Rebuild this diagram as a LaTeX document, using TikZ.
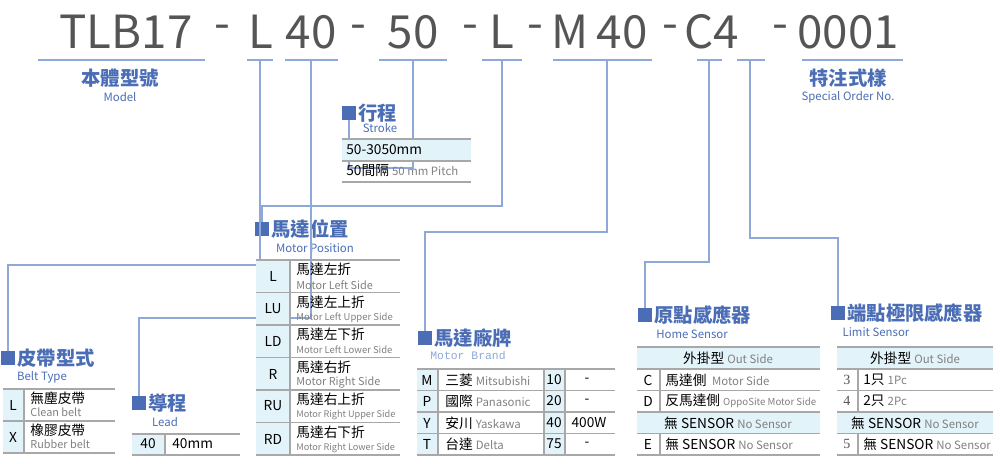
\documentclass[tikz,border=0pt]{standalone}
\usepackage{fontspec}
\setmainfont{Noto Sans CJK TC}
\newfontfamily\numfont{Liberation Serif}
\newfontfamily\brandfont{Liberation Mono}
\usetikzlibrary{positioning}
\definecolor{hblue}{HTML}{4A6DB5}
\definecolor{lblue}{HTML}{8FA8DA}
\definecolor{cfill}{HTML}{E2F3FA}
\definecolor{rgray}{HTML}{A8A8A8}
\definecolor{tgray}{HTML}{555555}
\begin{document}
\begin{tikzpicture}[x=0.02cm,y=-0.02cm,
code/.style={font=\fontsize{26}{30}\selectfont, text=tgray, inner sep=0},
ul/.style={draw=lblue, line width=0.8pt},
conn/.style={draw=lblue, line width=0.8pt},
sqmark/.style={rectangle, fill=hblue, minimum size=0.28cm, inner sep=0},
head/.style={font=\bfseries\fontsize{11}{12}\selectfont, text=hblue, anchor=west, inner sep=0},
sub/.style={font=\fontsize{6.5}{8}\selectfont, text=hblue, inner sep=0},
cell/.style={font=\fontsize{7.8}{9}\selectfont, text=black, inner sep=0},
eng/.style={font=\fontsize{6.2}{8}\selectfont, text=gray, inner sep=0},
rule/.style={draw=rgray, line width=0.6pt}]
\useasboundingbox (0,0) rectangle (1000,463);

% model code
\draw (126,32) node[code] (cTLB) {TLB17};
\draw (222,32) node[code] {-};
\draw (261,32) node[code] (cL) {L};
\draw (311,32) node[code] (c40) {40};
\draw (358,32) node[code] {-};
\draw (413,32) node[code] (c50) {50};
\draw (470,32) node[code] {-};
\draw (502,32) node[code] (cL2) {L};
\draw (535,32) node[code] {-};
\draw (570,32) node[code] (cM) {M};
\draw (622,32) node[code] (c40b) {40};
\draw (670,32) node[code] {-};
\draw (712,32) node[code] (cC4) {C4};
\draw (780,32) node[code] {-};
\draw (848,32) node[code] (c0001) {0001};

% underlines
\draw[ul] (38,60) -- (205,60);
\draw[ul] (247,60) -- (273,60);
\draw[ul] (285,60) -- (338,60);
\draw[ul] (379,60) -- (447,60);
\draw[ul] (482,60) -- (522,60);
\draw[ul] (553,60) -- (652,60);
\draw[ul] (697,60) -- (722,60);
\draw[ul] (737,60) -- (765,60);
\draw[ul] (802,60) -- (903,60);
\coordinate (uL) at (260,60);
\coordinate (u40) at (311,60);
\coordinate (u50) at (413,60);
\coordinate (uL2) at (502,60);
\coordinate (uM) at (607,60);
\coordinate (uC) at (709,60);
\coordinate (u4) at (750,60);

\draw (120,78) node[head,anchor=center] (tModel) {本體型號};
\draw (120,97) node[sub] (sModel) {Model};
\draw (848,78) node[head,anchor=center] (tSpec) {特注式樣};
\draw (848,97) node[sub] (sSpec) {Special Order No.};

% headings
\draw (8,358) node[sqmark] (mBelt) {};
\draw (17,358) node[head] (tBelt) {皮帶型式};
\draw (42,377) node[sub] (sBelt) {Belt Type};
\draw (139,403) node[sqmark] (mLead) {};
\draw (148,403) node[head] (tLead) {導程};
\draw (165,422) node[sub] (sLead) {Lead};
\draw (349,113) node[sqmark] (mStroke) {};
\draw (358,113) node[head] (tStroke) {行程};
\draw (380,128) node[sub] (sStroke) {Stroke};
\draw (262,229) node[sqmark] (mPos) {};
\draw (271,229) node[head] (tPos) {馬達位置};
\draw (315,248) node[sub] (sPos) {Motor Position};
\draw (425,338) node[sqmark] (mBrand) {};
\draw (434,338) node[head] (tBrand) {馬達廠牌};
\draw (468,355) node[sub,font=\brandfont\fontsize{6.5}{8}\selectfont,text=lblue] (sBrand) {Motor Brand};
\draw (645,315) node[sqmark] (mHome) {};
\draw (654,315) node[head] (tHome) {原點感應器};
\draw (692,334) node[sub] (sHome) {Home Sensor};
\draw (838,313) node[sqmark] (mLim) {};
\draw (847,313) node[head] (tLim) {端點極限感應器};
\draw (876,332) node[sub] (sLim) {Limit Sensor};

% connectors
\coordinate (kBelt) at (8,265);
\coordinate (kLead) at (139,318);
\coordinate (kStroke) at (349,168);
\coordinate (kPos) at (262,206);
\coordinate (kBrand) at (425,232);
\coordinate (kHome) at (645,262);
\coordinate (kLim) at (838,238);
\draw[conn] (uL) |- (kBelt) -- (mBelt);
\draw[conn] (u40) |- (kLead) -- (mLead);
\draw[conn] (u50) |- (kStroke) -- (mStroke);
\draw[conn] (uL2) |- (kPos) -- (mPos);
\draw[conn] (uM) |- (kBrand) -- (mBrand);
\draw[conn] (uC) |- (kHome) -- (mHome);
\draw[conn] (u4) |- (kLim) -- (mLim);

% belt type table
\fill[cfill] (3,389) rectangle (24,453);
\draw[rule] (3,389) -- (115,389) (3,421) -- (115,421) (3,453) -- (115,453) (24,389) -- (24,453);
\draw (13,405) node[cell] (bL) {L};
\draw (13,437) node[cell] (bX) {X};
\draw (30,398) node[cell,anchor=west] (bL1) {無塵皮帶};
\draw (30,412) node[eng,anchor=west] (bL2) {Clean belt};
\draw (30,430) node[cell,anchor=west] (bX1) {橡膠皮帶};
\draw (30,444) node[eng,anchor=west] (bX2) {Rubber belt};

% lead table
\fill[cfill] (132,434) rectangle (165,455);
\draw[rule] (132,434) -- (240,434) (132,455) -- (240,455) (165,434) -- (165,455);
\draw (148,444) node[cell] (l40) {40};
\draw (172,444) node[cell,anchor=west] (l40b) {40mm};

% stroke table
\fill[cfill] (342,139) rectangle (471,161);
\draw[rule] (342,139) -- (471,139) (342,161) -- (471,161) (342,182) -- (471,182);
\draw (346,150) node[cell,anchor=west] (s1) {50-3050mm};
\draw (346,171) node[cell,anchor=west] (s2) {50間隔 \textcolor{gray}{\fontsize{6.5}{8}\selectfont 50 mm Pitch}};

% motor position table
\fill[cfill] (256,260) rectangle (290,455);
\draw[rule] (290,260) -- (290,455);
\foreach \y in {260,292.5,325,357.5,390,422.5,455}
  \draw[rule] (256,\y) -- (400,\y);
\draw (273,276) node[cell] (pL) {L};
\draw (273,309) node[cell] (pLU) {LU};
\draw (273,341) node[cell] (pLD) {LD};
\draw (273,374) node[cell] (pR) {R};
\draw (273,406) node[cell] (pRU) {RU};
\draw (273,439) node[cell] (pRD) {RD};
\draw (296,269) node[cell,anchor=west] (pL1) {馬達左折};
\draw (296,285) node[eng,anchor=west] (pL2) {Motor Left Side};
\draw (296,302) node[cell,anchor=west] (pLU1) {馬達左上折};
\draw (296,318) node[eng,anchor=west,font=\fontsize{5.4}{7}\selectfont] (pLU2) {Motor Left Upper Side};
\draw (296,334) node[cell,anchor=west] (pLD1) {馬達左下折};
\draw (296,350) node[eng,anchor=west,font=\fontsize{5.4}{7}\selectfont] (pLD2) {Motor Left Lower Side};
\draw (296,367) node[cell,anchor=west] (pR1) {馬達右折};
\draw (296,383) node[eng,anchor=west] (pR2) {Motor Right Side};
\draw (296,399) node[cell,anchor=west] (pRU1) {馬達右上折};
\draw (296,415) node[eng,anchor=west,font=\fontsize{5.2}{7}\selectfont] (pRU2) {Motor Right Upper Side};
\draw (296,432) node[cell,anchor=west] (pRD1) {馬達右下折};
\draw (296,448) node[eng,anchor=west,font=\fontsize{5.2}{7}\selectfont] (pRD2) {Motor Right Lower Side};

% motor brand table
\fill[cfill] (417,369) rectangle (438,455) (544,369) rectangle (565,455);
\draw[rule] (438,369) -- (438,455) (544,369) -- (544,455) (565,369) -- (565,455);
\foreach \y in {369,390.5,412,433.5,455}
  \draw[rule] (417,\y) -- (615,\y);
\draw (427,380) node[cell] (bM) {M};
\draw (427,401) node[cell] (bP) {P};
\draw (427,423) node[cell] (bY) {Y};
\draw (427,444) node[cell] (bT) {T};
\draw (445,380) node[cell,anchor=west] (bM1) {三菱 \textcolor{gray}{\fontsize{6.5}{8}\selectfont Mitsubishi}};
\draw (445,401) node[cell,anchor=west] (bP1) {國際 \textcolor{gray}{\fontsize{6.5}{8}\selectfont Panasonic}};
\draw (445,423) node[cell,anchor=west] (bY1) {安川 \textcolor{gray}{\fontsize{6.5}{8}\selectfont Yaskawa}};
\draw (445,444) node[cell,anchor=west] (bT1) {台達 \textcolor{gray}{\fontsize{6.5}{8}\selectfont Delta}};
\draw (554,380) node[cell] (b10) {10};
\draw (554,401) node[cell] (b20) {20};
\draw (554,423) node[cell] (b40) {40};
\draw (554,444) node[cell] (b75) {75};
\draw (587,380) node[cell] (w10) {-};
\draw (587,401) node[cell] (w20) {-};
\draw (589,423) node[cell] (w40) {400W};
\draw (587,444) node[cell] (w75) {-};

% home sensor table
\fill[cfill] (637,347) rectangle (820,369) (637,412) rectangle (820,433.5);
\draw[rule] (660,369) -- (660,412) (660,433.5) -- (660,455);
\foreach \y in {347,369,390.5,412,433.5,455}
  \draw[rule] (637,\y) -- (820,\y);
\draw (728,358) node[cell] (hOut) {外掛型 \textcolor{gray}{\fontsize{6.5}{8}\selectfont Out Side}};
\draw (648,380) node[cell] (hC) {C};
\draw (648,401) node[cell] (hD) {D};
\draw (648,444) node[cell] (hE) {E};
\draw (665,380) node[cell,anchor=west] (hC1) {馬達側 \textcolor{gray}{\fontsize{6.5}{8}\selectfont\ Motor Side}};
\draw (665,401) node[cell,anchor=west] (hD1) {反馬達側 \textcolor{gray}{\fontsize{5.5}{7}\selectfont OppoSite Motor Side}};
\draw (728,423) node[cell] (hNo) {無 SENSOR \textcolor{gray}{\fontsize{6.5}{8}\selectfont No Sensor}};
\draw (665,444) node[cell,anchor=west] (hE1) {無 SENSOR \textcolor{gray}{\fontsize{6.5}{8}\selectfont No Sensor}};

% limit sensor table
\fill[cfill] (837,347) rectangle (993,369) (837,412) rectangle (993,433.5);
\draw[rule] (858,369) -- (858,412) (858,433.5) -- (858,455);
\foreach \y in {347,369,390.5,412,433.5,455}
  \draw[rule] (837,\y) -- (993,\y);
\draw (915,358) node[cell] (mOut) {外掛型 \textcolor{gray}{\fontsize{6.5}{8}\selectfont Out Side}};
\draw (847,380) node[cell,font=\numfont\fontsize{8}{9}\selectfont,text=tgray] (m3) {3};
\draw (847,401) node[cell,font=\numfont\fontsize{8}{9}\selectfont,text=tgray] (m4) {4};
\draw (847,444) node[cell,font=\numfont\fontsize{8}{9}\selectfont,text=tgray] (m5) {5};
\draw (863,380) node[cell,anchor=west] (m31) {1只 \textcolor{gray}{\fontsize{6.5}{8}\selectfont 1Pc}};
\draw (863,401) node[cell,anchor=west] (m41) {2只 \textcolor{gray}{\fontsize{6.5}{8}\selectfont 2Pc}};
\draw (915,423) node[cell] (mNo) {無 SENSOR \textcolor{gray}{\fontsize{6.5}{8}\selectfont No Sensor}};
\draw (863,444) node[cell,anchor=west] (m51) {無 SENSOR \textcolor{gray}{\fontsize{6.5}{8}\selectfont No Sensor}};

\end{tikzpicture}
\end{document}
